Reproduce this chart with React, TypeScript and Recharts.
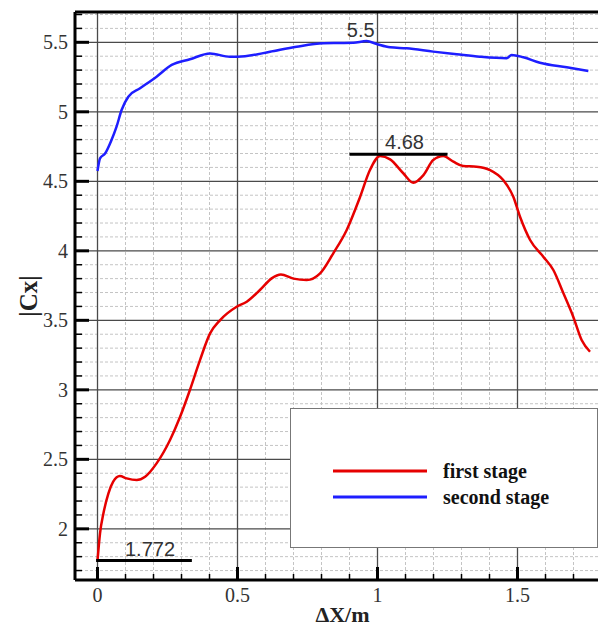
import {
  LineChart, Line, XAxis, YAxis, CartesianGrid,
  ReferenceLine, ReferenceDot, Legend
} from 'recharts'

// first stage (red)
const firstX = [
  0, 0.009, 0.021, 0.039, 0.056, 0.08, 0.104, 0.14, 0.17, 0.211, 0.259, 0.295,
  0.33, 0.366, 0.402, 0.438, 0.497, 0.533, 0.58, 0.622, 0.655, 0.7, 0.747, 0.795,
  0.842, 0.89, 0.938, 0.973, 1.009, 1.045, 1.092, 1.128, 1.164, 1.199, 1.235,
  1.271, 1.306, 1.354, 1.402, 1.449, 1.485, 1.509, 1.545, 1.592, 1.628, 1.664,
  1.699, 1.729, 1.759
]
const firstCx = [
  1.772, 1.968, 2.11, 2.255, 2.339, 2.38, 2.363, 2.351, 2.375, 2.471, 2.639, 2.806,
  2.999, 3.214, 3.406, 3.502, 3.598, 3.634, 3.718, 3.802, 3.83, 3.8, 3.79, 3.838,
  3.982, 4.15, 4.389, 4.581, 4.682, 4.658, 4.558, 4.49, 4.545, 4.653, 4.682,
  4.641, 4.61, 4.605, 4.581, 4.509, 4.389, 4.245, 4.078, 3.958, 3.862, 3.694,
  3.526, 3.358, 3.274
]

// second stage (blue)
const secondX = [
  0, 0.009, 0.027, 0.05, 0.068, 0.086, 0.11, 0.152, 0.211, 0.265, 0.33, 0.402,
  0.473, 0.527, 0.616, 0.711, 0.807, 0.866, 0.914, 0.961, 0.997, 1.045, 1.104,
  1.199, 1.283, 1.366, 1.461, 1.479, 1.521, 1.58, 1.676, 1.753
]
const secondCx = [
  4.574, 4.665, 4.7, 4.797, 4.893, 5.013, 5.109, 5.169, 5.253, 5.337, 5.378, 5.42,
  5.396, 5.4, 5.432, 5.468, 5.493, 5.495, 5.497, 5.509, 5.488, 5.464, 5.457,
  5.433, 5.414, 5.396, 5.385, 5.409, 5.392, 5.353, 5.32, 5.294
]

const xMajor = [0, 0.5, 1, 1.5]
const xMinor = [0.1, 0.2, 0.3, 0.4, 0.6, 0.7, 0.8, 0.9, 1.1, 1.2, 1.3, 1.4, 1.6, 1.7]
const yMajor = [2, 2.5, 3, 3.5, 4, 4.5, 5, 5.5]
const yMinor = [
  1.7, 1.8, 1.9, 2.1, 2.2, 2.3, 2.4, 2.6, 2.7, 2.8, 2.9, 3.1, 3.2, 3.3, 3.4,
  3.6, 3.7, 3.8, 3.9, 4.1, 4.2, 4.3, 4.4, 4.6, 4.7, 4.8, 4.9, 5.1, 5.2, 5.3, 5.4,
  5.6, 5.7
]

const X_DOMAIN: [number, number] = [-0.0804, 1.7875]
const Y_DOMAIN: [number, number] = [1.632, 5.718]

const minMark = { value: 1.772, from: -0.005, to: 0.337 }
const peakMark = { value: 4.68, lineY: 4.695, from: 0.9, to: 1.25 }
const topMark = { value: 5.5, x: 0.94 }

const series = [
  { name: 'first stage', color: '#e60000' },
  { name: 'second stage', color: '#1e1eff' }
]

const firstData = firstX.map((x, i) => ({ x, y: firstCx[i] }))
const secondData = secondX.map((x, i) => ({ x, y: secondCx[i] }))

const serif = 'Liberation Serif, Times New Roman, serif'
const sans = 'Liberation Sans, Arial, sans-serif'

const isMajor = (v: number) => Math.abs(v * 2 - Math.round(v * 2)) < 1e-6

const YTick = (props: any) => {
  const { x, y, payload } = props
  const major = isMajor(payload.value)
  return (
    <g>
      <line x1={x} x2={x + (major ? 14 : 7)} y1={y} y2={y} stroke="#000" strokeWidth={major ? 3 : 1.5} />
      {major && (
        <text x={x - 7} y={y + 7} textAnchor="end" fontFamily={serif} fontSize={20} fill="#333">
          {payload.value}
        </text>
      )}
    </g>
  )
}

const XTick = (props: any) => {
  const { x, y, payload } = props
  const major = isMajor(payload.value)
  return (
    <g>
      <line x1={x} x2={x} y1={y} y2={y - (major ? 13 : 6)} stroke="#000" strokeWidth={major ? 3 : 1.5} />
      {major && (
        <text x={x} y={y + 22} textAnchor="middle" fontFamily={serif} fontSize={20} fill="#333">
          {payload.value}
        </text>
      )}
    </g>
  )
}

const renderLegend = () => (
  <div
    style={{
      boxSizing: 'border-box',
      width: 308,
      height: 140,
      border: '1.5px solid #777',
      background: '#fff',
      paddingTop: 49,
      paddingLeft: 42,
      fontFamily: serif,
      fontWeight: 'bold',
      fontSize: 20,
      color: '#111'
    }}
  >
    {series.map(s => (
      <div key={s.name} style={{ display: 'flex', alignItems: 'center', height: 26 }}>
        <svg width={94} height={26}>
          <line x1={0} x2={94} y1={13} y2={13} stroke={s.color} strokeWidth={3} />
        </svg>
        <span style={{ marginLeft: 16 }}>{s.name}</span>
      </div>
    ))}
  </div>
)

const annoLabel = (value: number) => ({
  value: String(value),
  position: 'top' as const,
  dx: 6,
  fontFamily: sans,
  fontSize: 20,
  fill: '#333'
})

export default function App() {
  return (
    <div style={{ position: 'absolute', left: 0, top: 0 }}>
      <LineChart width={598} height={628} margin={{ top: 12, right: 0, bottom: 0, left: 0 }}>
        <CartesianGrid
          verticalValues={xMinor}
          horizontalValues={yMinor}
          stroke="#c4c4c4"
          strokeDasharray="3 2"
          strokeWidth={1}
        />
        <CartesianGrid
          verticalValues={xMajor}
          horizontalValues={yMajor}
          stroke="#4a4a4a"
          strokeWidth={1.3}
        />
        <XAxis
          type="number"
          dataKey="x"
          domain={X_DOMAIN}
          allowDataOverflow
          ticks={[...xMajor, ...xMinor].sort((a, b) => a - b)}
          interval={0}
          tickSize={0}
          tickMargin={0}
          tick={<XTick />}
          height={48}
          axisLine={{ stroke: '#000', strokeWidth: 3 }}
          label={{
            content: (p: any) => {
              const vb = p.viewBox
              return (
                <text
                  x={vb.x + vb.width / 2 + 6}
                  y={vb.y + 42}
                  textAnchor="middle"
                  fontFamily={serif}
                  fontWeight="bold"
                  fontSize={22}
                  fill="#222"
                >
                  ΔX/m
                </text>
              )
            }
          }}
        />
        <YAxis
          type="number"
          domain={Y_DOMAIN}
          allowDataOverflow
          ticks={[...yMajor, ...yMinor].sort((a, b) => a - b)}
          interval={0}
          tickSize={0}
          tickMargin={0}
          tick={<YTick />}
          width={75}
          axisLine={{ stroke: '#000', strokeWidth: 3 }}
          label={{
            content: (p: any) => {
              const vb = p.viewBox
              const cx = vb.x + 28
              const cy = vb.y + vb.height / 2
              return (
                <text
                  x={cx}
                  y={cy}
                  transform={`rotate(-90 ${cx} ${cy})`}
                  textAnchor="middle"
                  dominantBaseline="central"
                  fontFamily={serif}
                  fontWeight="bold"
                  fontSize={25}
                  fill="#222"
                >
                  |Cx|
                </text>
              )
            }
          }}
        />
        <ReferenceLine y={Y_DOMAIN[1]} stroke="#000" strokeWidth={3} />
        <Line
          data={firstData}
          dataKey="y"
          name={series[0].name}
          type="monotone"
          stroke={series[0].color}
          strokeWidth={2.5}
          dot={false}
          isAnimationActive={false}
        />
        <Line
          data={secondData}
          dataKey="y"
          name={series[1].name}
          type="monotone"
          stroke={series[1].color}
          strokeWidth={2.5}
          dot={false}
          isAnimationActive={false}
        />
        <ReferenceLine
          segment={[{ x: minMark.from, y: minMark.value }, { x: minMark.to, y: minMark.value }]}
          stroke="#000"
          strokeWidth={3}
          label={annoLabel(minMark.value)}
        />
        <ReferenceLine
          segment={[{ x: peakMark.from, y: peakMark.lineY }, { x: peakMark.to, y: peakMark.lineY }]}
          stroke="#000"
          strokeWidth={3}
          label={annoLabel(peakMark.value)}
        />
        <ReferenceDot
          x={topMark.x}
          y={topMark.value}
          r={0}
          stroke="none"
          fill="none"
          label={{ ...annoLabel(topMark.value), dx: 0 }}
        />
        <Legend
          layout="vertical"
          align="center"
          verticalAlign="middle"
          content={renderLegend}
          wrapperStyle={{ left: 290, top: 408, width: 308, height: 140 }}
        />
      </LineChart>
    </div>
  )
}
